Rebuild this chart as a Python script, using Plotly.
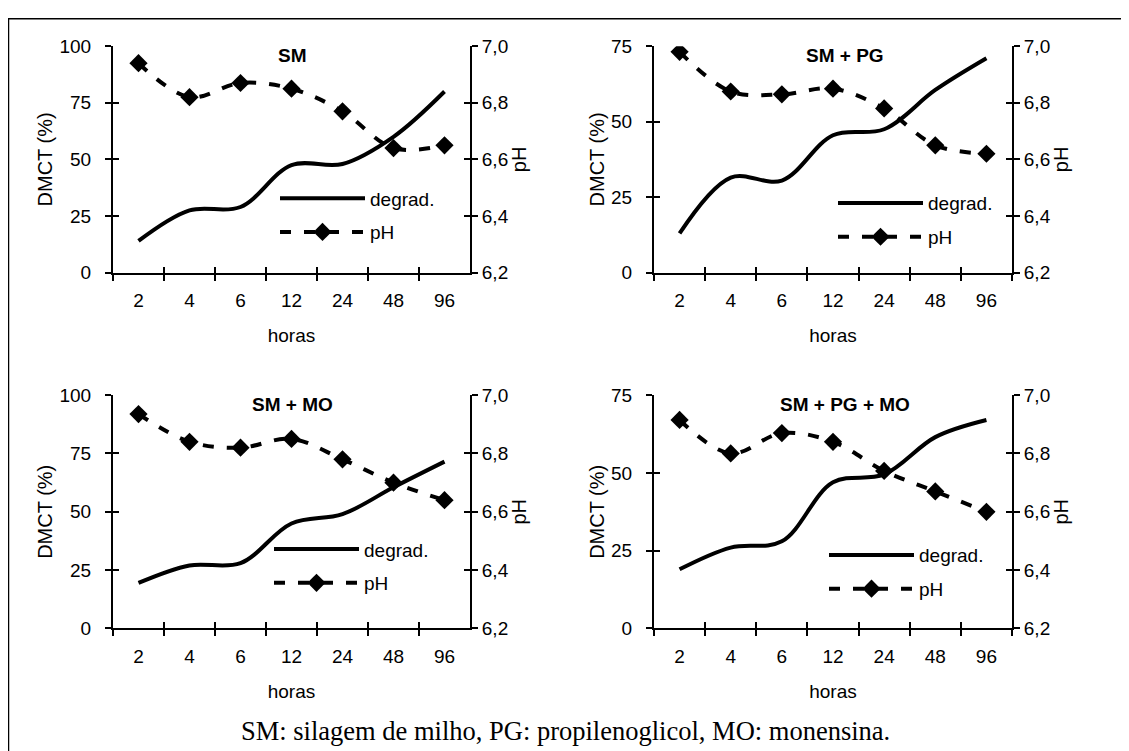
import plotly.graph_objects as go

W, H = 1129, 751
OFF = 8  # page offset of the figure inside the browser window (body margin)

hours = ["2", "4", "6", "12", "24", "48", "96"]
panel_titles = ["SM", "SM + PG", "SM + MO", "SM + PG + MO"]

degrad_sm = [14, 27.5, 29, 47.5, 48, 60, 80]
degrad_sm_pg = [13, 31.5, 30.5, 45.5, 47.5, 60.5, 71]
degrad_sm_mo = [19.5, 27, 28, 45, 49, 60.5, 71.5]
degrad_sm_pg_mo = [19, 26, 28, 47, 49.5, 61.5, 67]

ph_sm = [6.94, 6.82, 6.87, 6.85, 6.77, 6.64, 6.65]
ph_sm_pg = [6.98, 6.84, 6.83, 6.85, 6.78, 6.65, 6.62]
ph_sm_mo = [6.935, 6.84, 6.82, 6.85, 6.78, 6.70, 6.64]
ph_sm_pg_mo = [6.915, 6.80, 6.87, 6.84, 6.74, 6.67, 6.60]

left_max = [100, 75, 100, 75]
left_ticks = [[0, 25, 50, 75, 100], [0, 25, 50, 75], [0, 25, 50, 75, 100], [0, 25, 50, 75]]
ph_ticks = [6.2, 6.4, 6.6, 6.8, 7.0]
ph_ticklabels = ["6,2", "6,4", "6,6", "6,8", "7,0"]
x_bounds = [-0.5, 0.5, 1.5, 2.5, 3.5, 4.5, 5.5, 6.5]

caption = "SM: silagem de milho, PG: propilenoglicol, MO: monensina."

degrads = [degrad_sm, degrad_sm_pg, degrad_sm_mo, degrad_sm_pg_mo]
phs = [ph_sm, ph_sm_pg, ph_sm_mo, ph_sm_pg_mo]

# layout geometry (window pixels)
x_px = [(113, 470), (654, 1012), (113, 470), (654, 1012)]
y_px = [(37, 270), (37, 270), (396, 636), (396, 636)]
title_cx = [292, 845, 292, 845]
legend_px = [(275, 174), (833, 179), (269, 535), (824, 541)]

FONT = "Liberation Sans, Arial, sans-serif"
FS = 19
TICKFONT = dict(family=FONT, size=FS, color="black")


def px2x(p):
    return (p - OFF) / W


def px2y(p):
    return 1 - (p - OFF) / H


def xname(n):
    return "xaxis" if n == 1 else f"xaxis{n}"


def yname(n):
    return "yaxis" if n == 1 else f"yaxis{n}"


def xref(n):
    return "x" if n == 1 else f"x{n}"


def yref(n):
    return "y" if n == 1 else f"y{n}"


fig = go.Figure()
layout = dict(
    width=W, height=H, autosize=False,
    margin=dict(l=0, r=0, t=0, b=0),
    paper_bgcolor="white", plot_bgcolor="rgba(0,0,0,0)",
    showlegend=True,
    font=dict(family=FONT, size=FS, color="black"),
)
annotations = []

for p in range(4):
    xm, xo = p + 1, p + 5
    yl, yr, ylo, yro = 4 * p + 1, 4 * p + 2, 4 * p + 3, 4 * p + 4
    lg = "legend" if p == 0 else f"legend{p + 1}"
    x0, x1 = x_px[p]
    ytop, ybot = y_px[p]
    dom_x = [px2x(x0), px2x(x1)]
    dom_y = [px2y(ybot), px2y(ytop)]

    fig.add_trace(go.Scatter(
        x=hours, y=degrads[p], name="degrad.", mode="lines",
        line=dict(color="black", width=4, shape="spline", smoothing=1),
        xaxis=xref(xm), yaxis=yref(yl), legend=lg, legendgroup=f"d{p}",
    ))
    fig.add_trace(go.Scatter(
        x=hours, y=phs[p], name="pH", mode="lines+markers",
        line=dict(color="black", width=4, dash="11px,13px", shape="spline", smoothing=1),
        marker=dict(symbol="diamond", size=14, color="black"),
        xaxis=xref(xm), yaxis=yref(yr), legend=lg, legendgroup=f"p{p}",
    ))
    # empty helper traces so the overlay tick axes are drawn
    fig.add_trace(go.Scatter(x=[], y=[], xaxis=xref(xo), yaxis=yref(ylo), showlegend=False, hoverinfo="skip"))
    fig.add_trace(go.Scatter(x=[], y=[], xaxis=xref(xo), yaxis=yref(yro), showlegend=False, hoverinfo="skip"))

    common = dict(showgrid=False, zeroline=False, linecolor="black", linewidth=2,
                  tickcolor="black", tickwidth=2, ticklen=6, tickfont=TICKFONT)

    layout[xname(xm)] = dict(
        domain=dom_x, anchor=yref(yl), type="category", categoryarray=hours,
        categoryorder="array", range=[-0.5, 6.5], showline=True,
        ticks="outside", tickson="boundaries", ticklabelstandoff=10,
        title=dict(text="horas", font=dict(family=FONT, size=FS), standoff=18),
        **common,
    )
    layout[xname(xo)] = dict(
        overlaying=xref(xm), anchor=yref(yl), type="linear", range=[-0.5, 6.5],
        tickvals=x_bounds, ticks="inside", showticklabels=False, showline=False,
        showgrid=False, zeroline=False, tickcolor="black", tickwidth=2, ticklen=6,
    )
    layout[yname(yl)] = dict(
        domain=dom_y, anchor=xref(xm), range=[0, left_max[p]],
        tickvals=left_ticks[p], ticks="outside", showline=True, ticklabelstandoff=10,
        title=dict(text="DMCT (%)", font=dict(family=FONT, size=FS + 1), standoff=1),
        **common,
    )
    layout[yname(yr)] = dict(
        overlaying=yref(yl), anchor=xref(xm), side="right", range=[6.2, 7.0],
        tickvals=ph_ticks, ticktext=ph_ticklabels, ticks="outside", showline=True,
        ticklabelstandoff=0,
        title=dict(text="pH", font=dict(family=FONT, size=FS + 1), standoff=4),
        **common,
    )
    layout[yname(ylo)] = dict(
        overlaying=yref(yl), anchor=xref(xm), side="left", range=[0, left_max[p]],
        tickvals=left_ticks[p], ticks="inside", showticklabels=False, showline=False,
        showgrid=False, zeroline=False, tickcolor="black", tickwidth=2, ticklen=6,
    )
    layout[yname(yro)] = dict(
        overlaying=yref(yl), anchor=xref(xm), side="right", range=[6.2, 7.0],
        tickvals=ph_ticks, ticks="inside", showticklabels=False, showline=False,
        showgrid=False, zeroline=False, tickcolor="black", tickwidth=2, ticklen=6,
    )

    lx, ly = legend_px[p]
    layout[lg] = dict(
        x=px2x(lx), y=px2y(ly), xanchor="left", yanchor="top",
        bgcolor="rgba(0,0,0,0)", borderwidth=0, itemwidth=85,
        tracegroupgap=6, font=dict(family=FONT, size=FS, color="black"),
    )

    annotations.append(dict(
        text=f"<b>{panel_titles[p]}</b>", x=px2x(title_cx[p]),
        y=px2y(ytop + 10), xref="paper", yref="paper", showarrow=False,
        xanchor="center", yanchor="middle",
        font=dict(family=FONT, size=FS, color="black"),
    ))

annotations.append(dict(
    text=caption, x=px2x(565), y=px2y(741), xref="paper", yref="paper",
    showarrow=False, xanchor="center", yanchor="middle",
    font=dict(family="Liberation Serif, Times New Roman, serif", size=26.5, color="black"),
))

layout["annotations"] = annotations
layout["shapes"] = [dict(
    type="rect", xref="paper", yref="paper",
    x0=px2x(8.5), x1=px2x(1150), y0=px2y(8.7), y1=px2y(790),
    line=dict(color="black", width=1.5), fillcolor="rgba(0,0,0,0)", layer="below",
)]

fig.update_layout(**layout)
fig.write_html("out.html")
